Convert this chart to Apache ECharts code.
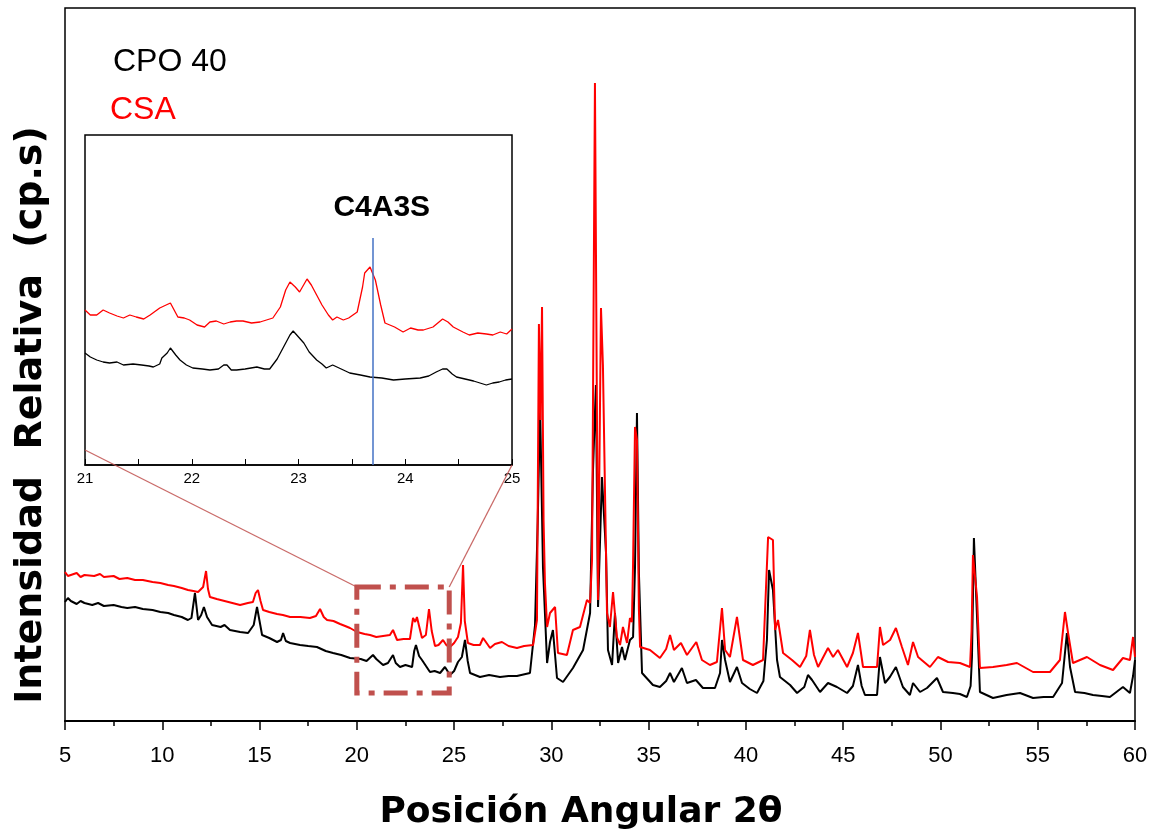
<!DOCTYPE html>
<html>
<head>
<meta charset="utf-8">
<title>DRX CPO 40 / CSA</title>
<script src="https://cdn.jsdelivr.net/npm/echarts/dist/echarts.min.js"></script>
<style>
  html, body { margin: 0; padding: 0; background: #fff; }
  #chart { width: 1155px; height: 835px; }
</style>
</head>
<body>
<div id="chart"></div>
<script>
// patrones de difraccion, [2theta, intensidad relativa]
const cpoMain = [
  [5.0,119],[5.15,123],[5.3,120],[5.6,117],[5.8,120],[6.0,118],[6.4,116],[6.7,118],[7.0,115],[7.5,116],[7.9,114],[8.2,113],[8.6,114],[9.0,112],
  [9.5,111],[9.9,109],[10.3,108],[10.6,106],[11.0,104],[11.32,101],[11.5,103],[11.68,128],[11.84,101],[12.0,106],
  [12.14,114],[12.3,104],[12.56,96],[13.0,94],[13.2,96],[13.48,91],[14.0,89],[14.41,88],[14.7,96],[14.87,114],[15.0,100],
  [15.13,86],[15.5,83],[15.9,79],[16.1,81],[16.21,88],[16.35,80],[16.57,78],[17.08,76],[17.5,75],[17.95,74],
  [18.4,70],[18.78,68],[19.2,66],[19.65,63],[20.2,62],[20.5,60],[20.83,66],[21.0,62],[21.35,56],[21.6,58],
  [21.86,66],[22.0,58],[22.22,54],[22.5,56],[22.84,54],[22.95,70],[23.04,76],[23.2,65],[23.35,61],[23.76,49],
  [24.0,50],[24.28,48],[24.53,54],[24.79,46],[25.0,50],[25.2,59],[25.4,64],[25.56,81],[25.7,60],[25.82,48],
  [26.33,44],[26.8,46],[27.36,44],[27.8,45],[28.23,45],[28.9,48],[29.16,96],[29.3,200],[29.42,316],[29.57,153],
  [29.78,58],[29.93,79],[30.08,91],[30.29,43],[30.6,39],[31.11,53],[31.63,71],[31.99,108],[32.14,251],[32.29,336],
  [32.4,114],[32.6,244],[32.81,168],[32.91,71],[33.12,56],[33.27,108],[33.43,58],[33.63,74],[33.78,61],[34.04,81],
  [34.2,84],[34.3,154],[34.4,308],[34.5,148],[34.66,48],[35.22,36],[35.58,34],[35.9,40],[36.1,48],[36.3,39],
  [36.71,53],[36.97,38],[37.43,41],[37.79,33],[38.41,33],[38.67,48],[38.77,81],[38.93,61],[39.18,39],[39.54,54],
  [39.8,38],[40.2,32],[40.57,28],[40.9,40],[41.08,81],[41.19,151],[41.39,131],[41.6,61],[41.75,44],[42.27,36],
  [42.63,28],[43.0,34],[43.19,46],[43.4,41],[43.81,29],[44.22,38],[44.68,34],[45.2,28],[45.5,35],[45.76,56],
  [45.95,35],[46.12,26],[46.74,26],[46.89,64],[47.15,38],[47.4,44],[47.71,54],[48.07,34],[48.43,26],[48.59,38],
  [48.95,29],[49.31,33],[49.82,43],[50.13,29],[50.64,28],[51.0,27],[51.36,24],[51.55,35],[51.62,64],[51.72,183],
  [51.88,104],[52.03,29],[52.7,23],[53.4,26],[54.09,28],[54.76,23],[55.3,24],[55.79,24],[56.25,38],[56.5,88],
  [56.66,54],[56.92,29],[57.4,28],[57.84,26],[58.3,25],[58.71,24],[59.38,34],[59.74,28],[59.9,45],[60.0,61]
]
const csaMain = [
  [5.0,149],[5.15,145],[5.3,146],[5.6,148],[5.8,144],[6.0,146],[6.5,145],[6.8,147],[7.0,144],[7.5,145],[7.8,142],[8.2,143],[8.6,141],[9.0,141],
  [9.5,139],[9.9,138],[10.3,136],[10.6,135],[11.0,133],[11.32,131],[11.6,130],[11.84,129],[12.1,134],[12.25,150],
  [12.35,132],[12.45,124],[12.8,122],[13.2,120],[13.6,118],[14.0,116],[14.4,118],[14.66,119],[14.8,128],[14.92,131],
  [15.05,120],[15.18,111],[15.5,109],[15.9,107],[16.2,106],[16.57,104],[17.1,104],[17.59,103],[17.9,105],[18.11,112],
  [18.3,104],[18.47,101],[18.8,100],[19.14,97],[19.4,95],[19.65,93],[20.01,89],[20.4,87],[20.68,86],[21.0,84],
  [21.35,85],[21.7,86],[21.86,91],[22.07,81],[22.4,82],[22.73,82],[22.89,103],[23.0,99],[23.09,104],[23.2,95],
  [23.35,83],[23.55,86],[23.71,112],[23.85,90],[24.02,75],[24.2,76],[24.43,81],[24.6,76],[24.79,74],[25.0,78],
  [25.2,84],[25.35,98],[25.46,156],[25.55,100],[25.71,78],[26.0,76],[26.33,76],[26.49,83],[26.85,73],[27.1,77],
  [27.46,79],[27.8,75],[28.23,73],[28.6,75],[29.06,76],[29.26,101],[29.36,397],[29.44,301],[29.52,414],[29.6,200],
  [29.67,138],[29.78,94],[29.93,108],[30.19,114],[30.34,68],[30.8,66],[31.11,91],[31.47,94],[31.83,121],[31.99,118],
  [32.09,161],[32.24,638],[32.4,121],[32.55,413],[32.65,356],[32.86,108],[33.01,94],[33.17,129],[33.37,84],[33.53,76],
  [33.68,94],[33.89,78],[34.04,103],[34.14,99],[34.2,158],[34.3,294],[34.4,281],[34.5,111],[34.56,74],[35.07,71],
  [35.58,63],[35.9,72],[36.1,86],[36.3,71],[36.66,78],[36.97,66],[37.45,79],[37.74,61],[38.15,56],[38.51,59],
  [38.77,113],[38.93,71],[39.18,64],[39.54,104],[39.85,61],[40.36,56],[40.88,61],[41.14,184],[41.39,181],[41.5,91],
  [41.65,101],[41.91,68],[42.37,61],[42.78,54],[43.1,65],[43.29,91],[43.5,66],[43.71,54],[44.22,73],[44.48,64],
  [44.73,71],[45.2,54],[45.5,68],[45.76,88],[45.9,70],[46.02,54],[46.74,54],[46.89,94],[47.05,76],[47.41,81],
  [47.71,93],[48.02,74],[48.33,56],[48.59,79],[48.85,64],[49.46,54],[49.87,64],[50.39,59],[51.0,58],[51.52,54],
  [51.6,90],[51.67,166],[51.88,124],[52.03,53],[52.7,54],[53.4,56],[53.93,58],[54.76,49],[55.63,49],[56.14,61],
  [56.4,109],[56.56,88],[56.81,58],[57.53,64],[58.2,56],[58.87,51],[59.38,63],[59.74,61],[59.9,84],[60.0,64]
]
// ampliacion 21-25
const csaZoom = [
  [21.0,155],[21.05,150],[21.11,150],[21.17,155],[21.23,152],[21.3,149],[21.36,147],[21.42,150],[21.48,148],[21.55,146],
  [21.61,150],[21.7,157],[21.8,162],[21.87,148],[21.93,147],[21.98,145],[22.05,140],[22.12,138],[22.17,143],[22.23,144],
  [22.3,141],[22.36,143],[22.42,144],[22.48,144],[22.56,142],[22.64,143],[22.7,145],[22.76,147],[22.83,158],[22.88,175],
  [22.92,183],[22.97,178],[23.01,173],[23.08,186],[23.12,180],[23.17,170],[23.22,160],[23.28,150],[23.32,145],[23.36,148],
  [23.42,145],[23.47,147],[23.55,153],[23.6,178],[23.62,192],[23.67,198],[23.72,185],[23.77,160],[23.81,142],[23.9,138],
  [23.98,133],[24.05,137],[24.12,135],[24.17,135],[24.26,138],[24.35,146],[24.4,143],[24.45,138],[24.54,133],[24.6,130],
  [24.68,132],[24.76,131],[24.82,130],[24.89,133],[24.95,131],[25.0,136]
]
const cpoZoom = [
  [21.0,112],[21.05,108],[21.11,105],[21.17,103],[21.23,102],[21.3,103],[21.36,100],[21.45,101],[21.53,100],[21.6,99],
  [21.64,98],[21.7,101],[21.72,107],[21.77,112],[21.8,117],[21.85,110],[21.89,105],[21.95,100],[22.01,97],[22.1,96],
  [22.17,95],[22.25,96],[22.3,100],[22.33,100],[22.37,95],[22.42,95],[22.5,96],[22.61,98],[22.68,96],[22.73,96],
  [22.8,106],[22.86,118],[22.92,130],[22.95,134],[23.0,128],[23.05,122],[23.1,113],[23.17,105],[23.22,101],[23.26,97],
  [23.32,100],[23.36,98],[23.42,95],[23.48,92],[23.58,90],[23.67,88],[23.78,87],[23.89,85],[24.0,86],[24.14,87],
  [24.22,89],[24.29,93],[24.35,96],[24.39,96],[24.44,91],[24.48,88],[24.56,86],[24.64,84],[24.7,82],[24.76,80],
  [24.82,82],[24.88,83],[24.94,85],[25.0,86]
]
const peakPos = 23.7        // C4A3S
const peakTop = 227
const zoomBox = [[20.0, 134], [24.75, 28]]

const chart = echarts.init(document.getElementById('chart'))

const option = {
  animation: false,
  backgroundColor: '#fff',
  grid: [
    { left: 65, right: 20, top: 8, bottom: 114, show: true, borderColor: '#000', borderWidth: 1.5 },
    { left: 85, top: 135, width: 427, height: 330, show: true, borderColor: '#000', borderWidth: 1.5, backgroundColor: '#fff' }
  ],
  xAxis: [
    {
      gridIndex: 0, type: 'value', min: 5, max: 60, interval: 5,
      axisLine: { lineStyle: { color: '#000', width: 2 } },
      axisTick: { length: 9, lineStyle: { color: '#000', width: 1.5 } },
      minorTick: { show: true, splitNumber: 2, length: 5, lineStyle: { color: '#000', width: 1.5 } },
      splitLine: { show: false },
      axisLabel: { color: '#000', fontSize: 22, margin: 24, fontFamily: '"Liberation Sans Narrow", "Liberation Sans", Arial, sans-serif' }
    },
    {
      gridIndex: 1, type: 'value', min: 21, max: 25, interval: 1,
      axisLine: { lineStyle: { color: '#000', width: 1.5 } },
      axisTick: { inside: true, length: 6, lineStyle: { color: '#000' } },
      minorTick: { show: true, splitNumber: 2, length: 6, lineStyle: { color: '#000' } },
      splitLine: { show: false },
      axisLabel: { color: '#000', fontSize: 15, margin: 6, fontFamily: '"Liberation Sans", Arial, sans-serif' }
    }
  ],
  yAxis: [
    { gridIndex: 0, type: 'value', min: 0, max: 713, show: false },
    { gridIndex: 1, type: 'value', min: 0, max: 330, show: false }
  ],
  series: [
    {
      name: 'CPO 40', type: 'line', xAxisIndex: 0, yAxisIndex: 0, data: cpoMain,
      showSymbol: false, symbol: 'none', lineStyle: { color: '#000', width: 2 }
    },
    {
      name: 'CSA', type: 'line', xAxisIndex: 0, yAxisIndex: 0, data: csaMain,
      showSymbol: false, symbol: 'none', lineStyle: { color: '#ff0000', width: 2 }
    },
    {
      name: 'CPO 40 zoom', type: 'line', xAxisIndex: 1, yAxisIndex: 1, data: cpoZoom,
      showSymbol: false, symbol: 'none', lineStyle: { color: '#000', width: 1.3 }
    },
    {
      name: 'CSA zoom', type: 'line', xAxisIndex: 1, yAxisIndex: 1, data: csaZoom,
      showSymbol: false, symbol: 'none', lineStyle: { color: '#ff0000', width: 1.3 },
      markLine: {
        silent: true, symbol: 'none', label: { show: false },
        lineStyle: { color: '#4472c4', width: 1.5, type: 'solid' },
        data: [[{ coord: [peakPos, peakTop] }, { coord: [peakPos, 0] }]]
      }
    }
  ]
}
chart.setOption(option)

// anotaciones: recuadro de ampliacion, lineas de union y textos
const p0 = chart.convertToPixel({ gridIndex: 0 }, zoomBox[0])
const p1 = chart.convertToPixel({ gridIndex: 0 }, zoomBox[1])
const inL = chart.convertToPixel({ gridIndex: 1 }, [21, 15])
const inR = chart.convertToPixel({ gridIndex: 1 }, [25, 0])
const lbl = chart.convertToPixel({ gridIndex: 1 }, [23.78, 257])
const boxColor = '#c0504d'

chart.setOption({
  graphic: [
    {
      type: 'rect', z: 50,
      shape: { x: p0[0], y: p0[1], width: p1[0] - p0[0], height: p1[1] - p0[1] },
      style: { fill: 'none', stroke: boxColor, lineWidth: 5, lineDash: [24, 9, 6, 9] }
    },
    {
      type: 'line', z: 50,
      shape: { x1: p0[0], y1: p0[1], x2: inL[0], y2: inL[1] },
      style: { stroke: boxColor, lineWidth: 1.3, opacity: 0.85 }
    },
    {
      type: 'line', z: 50,
      shape: { x1: p1[0], y1: p0[1], x2: inR[0], y2: inR[1] },
      style: { stroke: boxColor, lineWidth: 1.3, opacity: 0.85 }
    },
    {
      type: 'text', z: 60, x: lbl[0], y: lbl[1],
      style: { text: 'C4A3S', fill: '#000', align: 'center', verticalAlign: 'middle', font: 'bold 30px "Liberation Sans", Arial, sans-serif' }
    },
    {
      type: 'text', z: 60, x: 113, y: 62,
      style: { text: 'CPO 40', fill: '#000', align: 'left', verticalAlign: 'middle', font: '32px "Liberation Sans", Arial, sans-serif' }
    },
    {
      type: 'text', z: 60, x: 110, y: 110,
      style: { text: 'CSA', fill: '#ff0000', align: 'left', verticalAlign: 'middle', font: '32px "Liberation Sans", Arial, sans-serif' }
    },
    {
      type: 'text', z: 60, x: 31, y: 415, rotation: Math.PI / 2,
      style: { text: 'Intensidad  Relativa  (cp.s)', fill: '#000', align: 'center', verticalAlign: 'middle', font: 'bold 38px "DejaVu Sans", sans-serif' }
    },
    {
      type: 'text', z: 60, x: 581, y: 813,
      style: { text: 'Posición Angular 2θ', fill: '#000', align: 'center', verticalAlign: 'middle', font: 'bold 36px "DejaVu Sans", sans-serif' }
    }
  ]
})
</script>
</body>
</html>
